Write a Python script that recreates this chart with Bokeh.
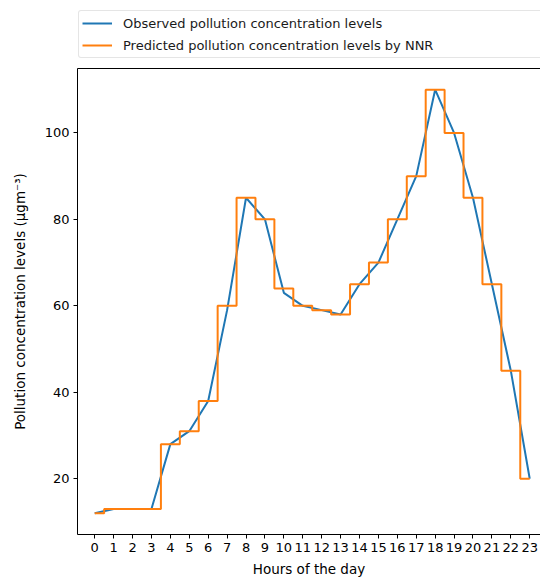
from bokeh.plotting import figure
from bokeh.layouts import column
from bokeh.models import (Range1d, FixedTicker, Legend, LegendItem, LinearAxis)
from bokeh.embed import file_html
from bokeh.resources import INLINE

hours = list(range(24))
observed = [12, 13, 13, 13, 28, 31, 38, 59, 85, 80, 63, 60, 59, 58,
            65, 70, 80, 90, 110, 100, 85, 65, 45, 20]
predicted = [12, 13, 13, 13, 28, 31, 38, 60, 85, 80, 64, 60, 59, 58,
             65, 70, 80, 90, 110, 100, 85, 65, 45, 20]
y_ticks = [20, 40, 60, 80, 100]
series_labels = ["Observed pollution concentration levels",
                 "Predicted pollution concentration levels by NNR"]
colors = ["#1f77b4", "#ff7f0e"]

FONT = "DejaVu Sans"
LEG_H = 63

# main chart
p = figure(width=540, height=583 - LEG_H, output_backend="svg", toolbar_location=None,
           x_range=Range1d(-0.91, 23.57), y_range=Range1d(7.1, 114.9),
           min_border_left=77, min_border_right=0, min_border_top=5,
           min_border_bottom=49)
p.outline_line_color = None
p.background_fill_color = "white"
p.border_fill_color = "white"
p.grid.visible = False

p.line(hours, observed, line_color=colors[0], line_width=2)
p.step(hours, predicted, mode="center", line_color=colors[1], line_width=2)

for ax in (p.xaxis[0], p.yaxis[0]):
    ax.axis_line_color = "black"
    ax.axis_line_width = 1
    ax.major_tick_out = 4
    ax.major_tick_in = 0
    ax.minor_tick_out = 0
    ax.minor_tick_in = 0
    ax.major_label_text_font = FONT
    ax.major_label_text_font_size = "13px"
    ax.major_label_text_color = "black"
    ax.axis_label_text_font = FONT
    ax.axis_label_text_font_size = "13.5px"
    ax.axis_label_text_font_style = "normal"
    ax.axis_label_text_color = "black"
    ax.major_label_standoff = 4

p.xaxis.ticker = FixedTicker(ticks=hours)
p.xaxis.axis_label = "Hours of the day"
p.xaxis.axis_label_standoff = 6
p.yaxis.ticker = FixedTicker(ticks=y_ticks)
p.yaxis.axis_label = "Pollution concentration levels (\u03bcgm\u207b\u00b3)"
p.yaxis.axis_label_standoff = 14

top = LinearAxis(ticker=FixedTicker(ticks=[]), major_label_text_font_size="0px",
                 axis_line_color="black", major_tick_out=0, minor_tick_out=0,
                 major_label_standoff=0)
p.add_layout(top, "above")

# legend strip above the chart (its frame is aligned with the chart's frame);
# the series are drawn outside its visible range so only the legend shows
lf = figure(width=540, height=LEG_H, output_backend="svg", toolbar_location=None,
            x_axis_type=None, y_axis_type=None, min_border=0,
            x_range=Range1d(0, 1), y_range=Range1d(0, 1))
lf.outline_line_color = None
lf.border_fill_color = "white"
r1 = lf.line(hours, observed, line_color=colors[0], line_width=2)
r2 = lf.line(hours, predicted, line_color=colors[1], line_width=2)
legend = Legend(items=[LegendItem(label=series_labels[0], renderers=[r1]),
                       LegendItem(label=series_labels[1], renderers=[r2])],
                location=(1, 5), orientation="vertical",
                label_text_font=FONT, label_text_font_size="13px", label_text_color="#1a1a1a",
                glyph_width=30, glyph_height=18, label_height=18, label_width=430,
                label_standoff=11, spacing=4, padding=3, margin=0,
                border_line_color="#cccccc", border_line_width=1,
                background_fill_alpha=0.8, border_radius=3)
lf.add_layout(legend, "center")

layout = column(lf, p, spacing=0)
open("out.html", "w").write(file_html(layout, INLINE))
